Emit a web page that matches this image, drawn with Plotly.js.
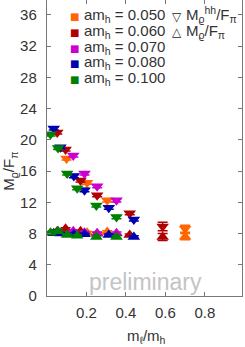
<!DOCTYPE html>
<html>
<head>
<meta charset="utf-8">
<script src="https://cdn.plot.ly/plotly-3.0.1.min.js"></script>
<style>html,body{margin:0;padding:0;background:#fff;}#plot{width:245px;height:347px;}</style>
</head>
<body>
<div id="plot"></div>
<script>
// Series labels and colours
const seriesNames = ["0.050", "0.060", "0.070", "0.080", "0.100"];
const seriesColors = ["#ff6600", "#b00000", "#cc00cc", "#0000b0", "#008000"];

// m_l/m_h values per series
const x050 = [0.099, 0.203, 0.305, 0.700];
const x060 = [0.052, 0.094, 0.170, 0.254, 0.419, 0.586];
const x070 = [0.133, 0.190, 0.254, 0.352];
const x080 = [0.034, 0.068, 0.136, 0.190, 0.313, 0.440];
const x100 = [0.018, 0.056, 0.102, 0.153, 0.250, 0.352];

// M_rho^hh / F_pi (down triangles)
const hh050 = [17.6, 14.5, 12.25, 8.6];
const hh060 = [20.95, 18.75, 14.8, 12.9, 10.6, 8.9];
const hh070 = [18.0, 15.7, 14.05, 12.25];
const hh080 = [21.45, 19.05, 15.35, 13.55, 11.3, 9.8];
const hh100 = [20.7, 18.95, 15.7, 13.8, 11.6, 10.1];

// M_rho / F_pi (up triangles)
const r050 = [8.0, 8.1, 8.2, 7.6];
const r060 = [8.3, 8.6, 8.3, 8.0, 7.8, 7.55];
const r070 = [8.3, 8.1, 8.0, 8.05];
const r080 = [8.05, 8.0, 7.9, 7.9, 7.8, 7.55];
const r100 = [8.1, 8.3, 7.8, 7.7, 7.55, 7.55];

// error sizes
const ehh050 = [0.2, 0.2, 0.2, 0.45];
const ehh060 = [0.2, 0.2, 0.2, 0.2, 0.2, 0.55];
const ehh070 = [0.2, 0.2, 0.2, 0.2];
const ehh080 = [0.2, 0.2, 0.2, 0.2, 0.2, 0.2];
const ehh100 = [0.2, 0.2, 0.2, 0.2, 0.2, 0.2];
const er050 = [0.15, 0.15, 0.15, 0.4];
const er060 = [0.15, 0.15, 0.15, 0.15, 0.15, 0.45];
const er070 = [0.15, 0.15, 0.15, 0.15];
const er080 = [0.15, 0.15, 0.15, 0.15, 0.15, 0.15];
const er100 = [0.15, 0.15, 0.15, 0.15, 0.15, 0.15];

const yTicks = [0, 4, 8, 12, 16, 20, 24, 28, 32, 36];
const xTicks = [0.2, 0.4, 0.6, 0.8];
const xTickText = ["0.2", "0.4", "0.6", "0.8"];

const xs = [x050, x060, x070, x080, x100];
const hhs = [hh050, hh060, hh070, hh080, hh100];
const rs = [r050, r060, r070, r080, r100];
const ehhs = [ehh050, ehh060, ehh070, ehh080, ehh100];
const ers = [er050, er060, er070, er080, er100];

const traces = [];
[0, 1, 2, 3, 4].forEach(i => {
  traces.push({
    x: xs[i], y: rs[i], type: 'scatter', mode: 'markers', showlegend: false,
    marker: {symbol: 'triangle-up', size: 11, color: seriesColors[i], line: {width: 0}},
    error_y: {type: 'data', array: ers[i], visible: true, color: seriesColors[i], thickness: 1.5, width: 5}
  });
  traces.push({
    x: xs[i], y: hhs[i], type: 'scatter', mode: 'markers', showlegend: false,
    marker: {symbol: 'triangle-down', size: 11, color: seriesColors[i], line: {width: 0}},
    error_y: {type: 'data', array: ehhs[i], visible: true, color: seriesColors[i], thickness: 1.5, width: 5}
  });
});

// plot area geometry in pixels
const L = 46.5, R = 241.7, T = 0, B = 295.7;
const px = v => (v - L) / (R - L);
const py = v => (B - v) / (B - T);

const FONT = "Liberation Sans, Arial, sans-serif";
const annotations = [];
const legendRows = [16.5, 32.5, 48.3, 63.8, 79.3];
seriesNames.forEach((n, i) => {
  annotations.push({xref: 'paper', yref: 'paper', x: px(73.8), y: py(legendRows[i]), text: '■',
    showarrow: false, xanchor: 'center', yanchor: 'middle', font: {family: 'DejaVu Sans', size: 10, color: seriesColors[i]}});
  annotations.push({xref: 'paper', yref: 'paper', x: px(82), y: py(legendRows[i] - 1), text: 'am<sub>h</sub> = ' + n,
    showarrow: false, xanchor: 'left', yanchor: 'middle', font: {family: FONT, size: 15, color: '#333'}});
});
annotations.push({xref: 'paper', yref: 'paper', x: px(176.5), y: py(16.5), text: '▽',
  showarrow: false, xanchor: 'center', yanchor: 'middle', font: {family: 'DejaVu Sans', size: 12, color: '#222'}});
annotations.push({xref: 'paper', yref: 'paper', x: px(184), y: py(14), text: 'M<sub>ϱ</sub><sup>hh</sup>/F<sub>π</sub>',
  showarrow: false, xanchor: 'left', yanchor: 'middle', font: {family: FONT, size: 15, color: '#333'}});
annotations.push({xref: 'paper', yref: 'paper', x: px(176.5), y: py(32), text: '△',
  showarrow: false, xanchor: 'center', yanchor: 'middle', font: {family: 'DejaVu Sans', size: 12, color: '#222'}});
annotations.push({xref: 'paper', yref: 'paper', x: px(184), y: py(31), text: 'M<sub>ϱ</sub>/F<sub>π</sub>',
  showarrow: false, xanchor: 'left', yanchor: 'middle', font: {family: FONT, size: 15, color: '#333'}});
// axis titles
annotations.push({xref: 'paper', yref: 'paper', x: px(9), y: py(171), text: 'M<sub>ϱ</sub>/F<sub>π</sub>', textangle: -90,
  showarrow: false, xanchor: 'center', yanchor: 'middle', font: {family: FONT, size: 15, color: '#333'}});
annotations.push({xref: 'paper', yref: 'paper', x: px(146.5), y: py(336), text: 'm<sub>ℓ</sub>/m<sub>h</sub>',
  showarrow: false, xanchor: 'center', yanchor: 'middle', font: {family: FONT, size: 15, color: '#333'}});
// watermark
annotations.push({xref: 'paper', yref: 'paper', x: px(145), y: py(282), text: 'preliminary',
  showarrow: false, xanchor: 'center', yanchor: 'middle', font: {family: FONT, size: 23, color: '#c4c4c4'}});

const layout = {
  width: 245, height: 347,
  margin: {l: L, r: 245 - R, t: T, b: 347 - B, pad: 0},
  paper_bgcolor: '#fff', plot_bgcolor: '#fff',
  showlegend: false,
  xaxis: {
    range: [0, 0.988], tickvals: xTicks, ticktext: xTickText, ticks: 'inside', ticklen: 4,
    tickcolor: '#777', showline: true, linecolor: '#777', linewidth: 1.2, mirror: 'ticks',
    showgrid: false, zeroline: false, tickfont: {family: FONT, size: 15, color: '#333'},
    ticklabelstandoff: 3
  },
  yaxis: {
    range: [0, 37.9], tickvals: yTicks, ticks: 'inside', ticklen: 4,
    tickcolor: '#777', showline: true, linecolor: '#777', linewidth: 1.2, mirror: 'ticks',
    showgrid: false, zeroline: false, tickfont: {family: FONT, size: 15, color: '#333'},
    ticklabelstandoff: 6
  },
  annotations: annotations
};

Plotly.newPlot('plot', traces, layout, {staticPlot: true, displayModeBar: false});
</script>
</body>
</html>
